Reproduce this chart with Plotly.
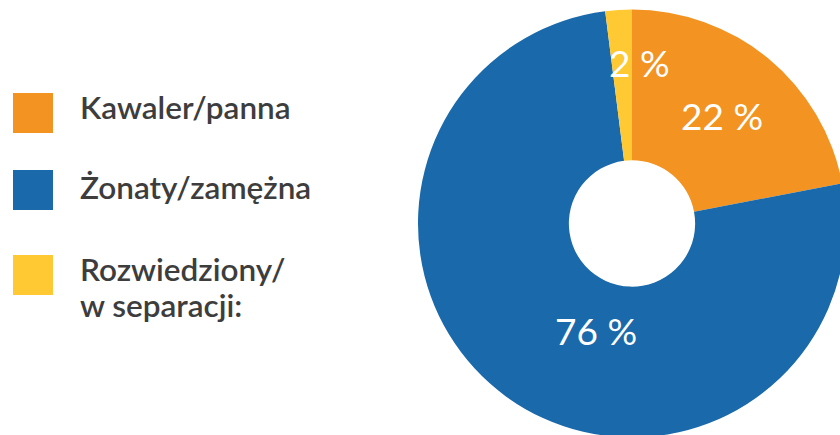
import plotly.graph_objects as go

# ---- data ----
labels = ["Kawaler/panna", "Żonaty/zamężna", "Rozwiedziony/<br>w separacji:"]
values = [22, 76, 2]
colors = ["#F39321", "#1A69AA", "#FFC933"]

# figure is slightly larger than the 840x435 window so the pie is cropped
W, H = 846, 438
cx, cy, R = 632, 223.5, 214  # pixel centre / radius of pie

fig = go.Figure()
fig.add_trace(go.Pie(
    labels=labels,
    values=values,
    marker=dict(colors=colors, line=dict(width=0)),
    hole=0.295,
    sort=False,
    direction="clockwise",
    rotation=0,
    textinfo="none",
    hoverinfo="label+percent",
    domain=dict(x=[(cx - R) / W, 1.0],
                y=[(H - cy - R) / H, (H - cy + R) / H]),
    showlegend=False,
))

# value labels (positions in pixels)
label_pos = [(722, 115), (596, 330), (639, 62)]
for v, (px, py) in zip(values, label_pos):
    fig.add_annotation(
        x=px / W, y=1 - py / H, xref="paper", yref="paper",
        text=f"{v} %", showarrow=False,
        font=dict(family="Lato", size=37, color="white", weight=400),
        xanchor="center", yanchor="middle",
    )

# custom legend
sq_top = [93, 170, 255]
text_y = [107, 187, 269]
for lab, col, top, ty in zip(labels, colors, sq_top, text_y):
    fig.add_shape(type="rect", xref="paper", yref="paper",
                  x0=13 / W, x1=53 / W, y0=1 - (top + 40) / H, y1=1 - top / H,
                  fillcolor=col, line=dict(width=0))
    for i, line in enumerate(lab.split("<br>")):
        fig.add_annotation(
            x=78 / W, y=1 - (ty + i * 36) / H, xref="paper", yref="paper",
            text=line, showarrow=False,
            font=dict(family="Lato", size=31.5, color="#3d3d3d", weight=600),
            xanchor="left", yanchor="middle",
        )

fig.update_layout(
    width=W, height=H,
    margin=dict(l=0, r=0, t=0, b=0),
    paper_bgcolor="white",
    plot_bgcolor="white",
)

fig.write_html(
    "out.html",
    config={"displayModeBar": False},
    post_script="document.body.style.margin='0';document.body.style.overflow='hidden';",
)
